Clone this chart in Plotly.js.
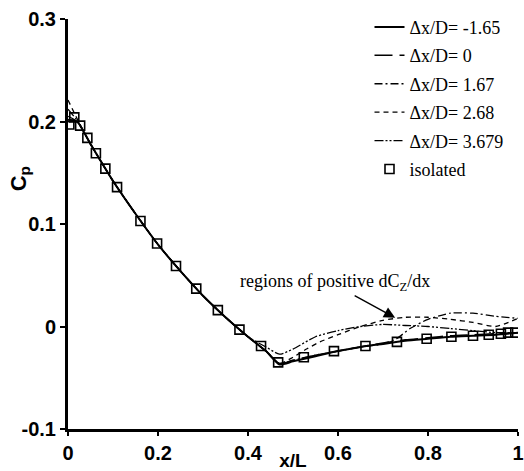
<!DOCTYPE html>
<html>
<head>
<meta charset="utf-8">
<script src="https://cdn.plot.ly/plotly-3.0.1.min.js"></script>
<style>html,body{margin:0;padding:0;background:#fff;}#chart{width:524px;height:471px;}</style>
</head>
<body>
<div id="chart"></div>
<script>
// ---- data ----
const xSolid = [0, 0.02, 0.05, 0.1, 0.15, 0.2, 0.25, 0.3, 0.35, 0.4, 0.44, 0.47, 0.5, 0.55, 0.6, 0.65, 0.7, 0.75, 0.8, 0.85, 0.9, 0.95, 1.0];
const cpM165 = [0.200, 0.200, 0.178, 0.142, 0.110, 0.080, 0.054, 0.030, 0.009, -0.010, -0.024, -0.037, -0.034, -0.029, -0.024, -0.020, -0.017, -0.014, -0.012, -0.010, -0.009, -0.008, -0.006];

const xZero = [0, 0.02, 0.05, 0.1, 0.15, 0.2, 0.25, 0.3, 0.35, 0.4, 0.44, 0.47, 0.5, 0.55, 0.6, 0.65, 0.7, 0.75, 0.8, 0.85, 0.9, 0.95, 1.0];
const cpZero = [0.202, 0.200, 0.178, 0.142, 0.110, 0.080, 0.054, 0.030, 0.009, -0.010, -0.024, -0.036, -0.033, -0.028, -0.024, -0.020, -0.016, -0.013, -0.011, -0.009, -0.008, -0.007, -0.006];

const x167 = [0, 0.02, 0.05, 0.1, 0.15, 0.2, 0.25, 0.3, 0.35, 0.4, 0.44, 0.47, 0.5, 0.55, 0.6, 0.65, 0.7, 0.73, 0.76, 0.8, 0.85, 0.9, 0.95, 1.0];
const cp167 = [0.205, 0.200, 0.178, 0.142, 0.110, 0.080, 0.054, 0.030, 0.009, -0.010, -0.024, -0.036, -0.033, -0.028, -0.024, -0.020, -0.017, -0.012, -0.002, 0.007, 0.013, 0.013, 0.010, 0.008];

const x268 = [0, 0.02, 0.05, 0.1, 0.15, 0.2, 0.25, 0.3, 0.35, 0.4, 0.44, 0.47, 0.5, 0.53, 0.56, 0.6, 0.65, 0.7, 0.75, 0.8, 0.85, 0.9, 0.95, 1.0];
const cp268 = [0.221, 0.203, 0.178, 0.142, 0.110, 0.080, 0.054, 0.030, 0.009, -0.010, -0.024, -0.036, -0.030, -0.022, -0.015, -0.008, 0.000, 0.006, 0.009, 0.009, 0.007, 0.004, 0.000, 0.008];

const x3679 = [0, 0.02, 0.05, 0.1, 0.15, 0.2, 0.25, 0.3, 0.35, 0.4, 0.44, 0.47, 0.5, 0.55, 0.6, 0.65, 0.7, 0.75, 0.8, 0.85, 0.9, 0.95, 1.0];
const cp3679 = [0.212, 0.201, 0.178, 0.142, 0.110, 0.080, 0.054, 0.030, 0.009, -0.010, -0.020, -0.027, -0.022, -0.010, -0.004, 0.000, 0.002, 0.001, 0.000, -0.002, -0.004, -0.006, -0.006];

const xIso = [0.003, 0.014, 0.027, 0.043, 0.062, 0.083, 0.109, 0.161, 0.198, 0.240, 0.285, 0.333, 0.381, 0.429, 0.467, 0.524, 0.591, 0.661, 0.731, 0.797, 0.852, 0.900, 0.935, 0.962, 0.978, 0.994];
const cpIso = [0.197, 0.204, 0.196, 0.184, 0.169, 0.154, 0.136, 0.103, 0.081, 0.059, 0.037, 0.016, -0.003, -0.019, -0.035, -0.030, -0.024, -0.019, -0.015, -0.012, -0.010, -0.009, -0.008, -0.007, -0.006, -0.006];

const names = ['\u0394x/D= -1.65', '\u0394x/D= 0', '\u0394x/D= 1.67', '\u0394x/D= 2.68', '\u0394x/D= 3.679', 'isolated'];
const xTicks = [0, 0.2, 0.4, 0.6, 0.8, 1];
const xTickText = ['0', '0.2', '0.4', '0.6', '0.8', '1'];
const yTicks = [-0.1, 0, 0.1, 0.2, 0.3];
const yTickText = ['-0.1', '0', '0.1', '0.2', '0.3'];

// ---- traces ----
function lineTrace(x, y, name, dash, width, grp) {
  return {x: x, y: y, name: name, type: 'scatter', mode: 'lines',
    line: {color: '#000', width: width, dash: dash, shape: 'spline', smoothing: 0.6},
    legendgroup: grp};
}
const traces = [
  lineTrace(xSolid, cpM165, names[0], 'solid', 2, 'a'),
  lineTrace(xZero, cpZero, names[1], '18px,7px', 1.5, 'b'),
  lineTrace(x167, cp167, names[2], '8px,3px,2px,3px', 1.3, 'c'),
  lineTrace(x268, cp268, names[3], '5px,4px', 1.3, 'd'),
  lineTrace(x3679, cp3679, names[4], '9px,2px,2px,2px,2px,2px', 1.3, 'e'),
  {x: xIso, y: cpIso, name: names[5], type: 'scatter', mode: 'markers',
   marker: {symbol: 'square-open', size: 9, color: '#000', line: {color: '#000', width: 1.6}},
   legendgroup: 'f'}
];

const bold = s => '<b>' + s + '</b>';
const tickFont = {family: 'Liberation Sans, Arial, sans-serif', size: 20, color: '#000'};

const layout = {
  width: 524, height: 471,
  margin: {l: 68, r: 6, t: 19, b: 42},
  paper_bgcolor: '#fff', plot_bgcolor: '#fff',
  showlegend: true,
  legend: {x: 0.67, y: 1.025, xanchor: 'left', yanchor: 'top', traceorder: 'grouped',
    tracegroupgap: 2, bgcolor: 'rgba(0,0,0,0)',
    font: {family: 'Liberation Serif, Times New Roman, serif', size: 18, color: '#000'}},
  xaxis: {range: [0, 1], tickvals: xTicks, ticktext: xTickText.map(bold), showgrid: false, zeroline: false,
    showline: true, linecolor: '#000', linewidth: 3, ticks: 'outside', ticklen: 4, tickwidth: 2,
    tickcolor: '#000', tickfont: tickFont, ticklabeloverflow: 'allow',
    title: {text: bold('x/L'), font: {family: 'Liberation Sans, Arial, sans-serif', size: 19, color: '#000'}, standoff: 0}},
  yaxis: {range: [-0.1, 0.3], tickvals: yTicks, ticktext: yTickText.map(bold), showgrid: false, zeroline: false,
    showline: true, linecolor: '#000', linewidth: 3, ticks: 'outside', ticklen: 5, tickwidth: 2,
    tickcolor: '#000', tickfont: tickFont, ticklabelstandoff: 0, ticklabeloverflow: 'allow'},
  annotations: [
    {xref: 'paper', yref: 'paper', x: -0.108, y: 0.61, xanchor: 'center', yanchor: 'middle',
     text: bold('C<sub>p</sub>'), showarrow: false,
     textangle: -90, font: {family: 'Liberation Sans, Arial, sans-serif', size: 22, color: '#000'}},
    {xref: 'x', yref: 'y', x: 0.593, y: 0.043, text: 'regions of positive dC<sub>Z</sub>/dx', showarrow: false,
     font: {family: 'Liberation Serif, Times New Roman, serif', size: 18, color: '#000'}},
    {xref: 'x', yref: 'y', x: 0.727, y: 0.0085, text: '', showarrow: true, ax: -42, ay: -23,
     arrowhead: 2, arrowsize: 1.6, arrowwidth: 1.4, arrowcolor: '#000'}
  ]
};

Plotly.newPlot('chart', traces, layout, {staticPlot: true, displayModeBar: false});
</script>
</body>
</html>
